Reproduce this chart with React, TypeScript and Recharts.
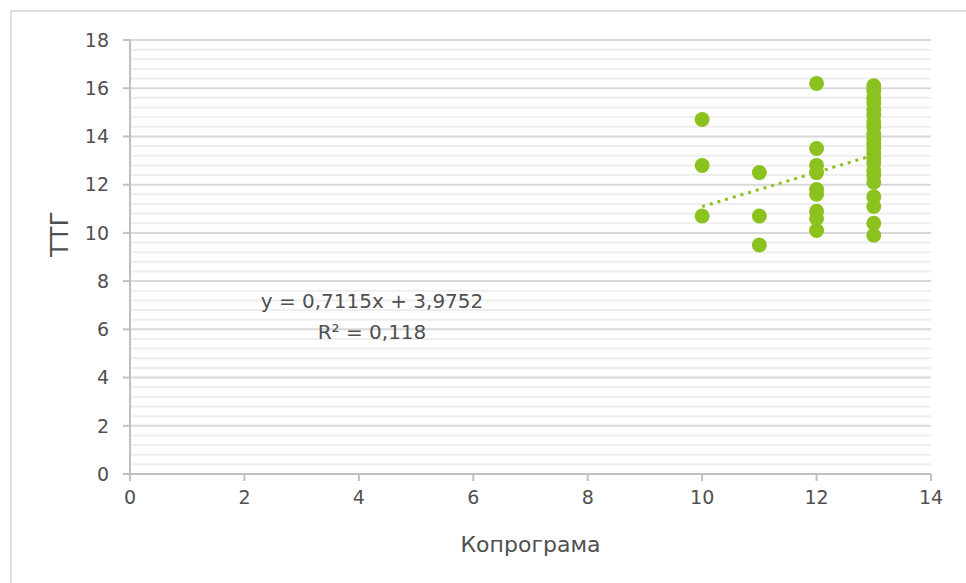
import React from 'react';
import {
  ScatterChart, Scatter, XAxis, YAxis, CartesianGrid,
} from 'recharts';

// Копрограма (x) vs ТТГ (y)
const x10 = [14.7, 12.8, 10.7];
const x11 = [12.5, 10.7, 9.5];
const x12 = [16.2, 13.5, 12.8, 12.5, 11.8, 11.6, 10.9, 10.6, 10.1];
const x13 = [
  16.1, 15.9, 15.6, 15.4, 15.1, 14.9, 14.6, 14.4, 14.1, 13.9, 13.7, 13.5,
  13.3, 13.1, 12.9, 12.6, 12.4, 12.1, 11.5, 11.1, 10.4, 9.9,
];

const xTicks = [0, 2, 4, 6, 8, 10, 12, 14];
const yTicks = [0, 2, 4, 6, 8, 10, 12, 14, 16, 18];
const yMinor = [
  0.4, 0.8, 1.2, 1.6, 2.4, 2.8, 3.2, 3.6, 4.4, 4.8, 5.2, 5.6, 6.4, 6.8, 7.2, 7.6,
  8.4, 8.8, 9.2, 9.6, 10.4, 10.8, 11.2, 11.6, 12.4, 12.8, 13.2, 13.6,
  14.4, 14.8, 15.2, 15.6, 16.4, 16.8, 17.2, 17.6,
];
const Y_MAX = 18;

// linear trend from the chart's equation
const slope = 0.7115;
const intercept = 3.9752;
const trendX = [10, 13];

const points = [
  ...x10.map((y) => ({ x: 10, y })),
  ...x11.map((y) => ({ x: 11, y })),
  ...x12.map((y) => ({ x: 12, y })),
  ...x13.map((y) => ({ x: 13, y })),
];
const trend = trendX.map((x) => ({ x, y: slope * x + intercept }));

const GREEN = '#8cc220';
const TEXT = '#505050';
const FONT = '"DejaVu Sans", sans-serif';

const Dot = (p: any) => <circle cx={p.cx} cy={p.cy} r={7.5} fill={GREEN} />;

export default function App() {
  return (
    <div style={{ position: 'absolute', left: 0, top: 0, width: 966, height: 583, background: '#fff', fontFamily: FONT }}>
      <div style={{ position: 'absolute', left: 10, top: 10, right: 0, bottom: 0, borderTop: '2px solid #dedede', borderLeft: '2px solid #dedede' }} />
      <ScatterChart width={966} height={583} margin={{ top: 40, right: 35, left: 0, bottom: 0 }} style={{ position: 'absolute', left: 0, top: 0 }}>
        <CartesianGrid
          vertical={false}
          stroke="#eeeeee"
          strokeWidth={2}
          horizontalCoordinatesGenerator={({ offset }: any) =>
            yMinor.map((t) => offset.top + offset.height * (1 - t / Y_MAX))}
        />
        <CartesianGrid vertical={false} stroke="#d9d9d9" strokeWidth={2} />
        <XAxis
          type="number"
          dataKey="x"
          domain={[0, 14]}
          ticks={xTicks}
          height={109}
          stroke="#bfbfbf"
          strokeWidth={2}
          tickSize={7}
          tickMargin={10}
          tick={{ fill: TEXT, fontSize: 19, fontFamily: FONT }}
          label={{ value: 'Копрограма', position: 'insideTop', dy: 57, fill: TEXT, fontSize: 22, fontFamily: FONT }}
        />
        <YAxis
          type="number"
          dataKey="y"
          domain={[0, Y_MAX]}
          ticks={yTicks}
          width={130}
          stroke="#bfbfbf"
          strokeWidth={2}
          tickSize={7}
          tickMargin={14}
          tick={{ fill: TEXT, fontSize: 19, fontFamily: FONT }}
          label={{ value: 'ТТГ', angle: -90, position: 'insideLeft', dx: 54, fill: TEXT, fontSize: 25, fontFamily: FONT }}
        />
        <Scatter data={points} shape={Dot} isAnimationActive={false} />
        <Scatter
          data={trend}
          line={{ stroke: GREEN, strokeWidth: 3, strokeDasharray: '3 5' }}
          shape={() => <g />}
          isAnimationActive={false}
        />
      </ScatterChart>
      <div style={{ position: 'absolute', left: 372, top: 286, transform: 'translateX(-50%)', textAlign: 'center', color: TEXT, fontSize: 20, lineHeight: '31px', whiteSpace: 'nowrap' }}>
        <div>y = 0,7115x + 3,9752</div>
        <div>R² = 0,118</div>
      </div>
    </div>
  );
}
